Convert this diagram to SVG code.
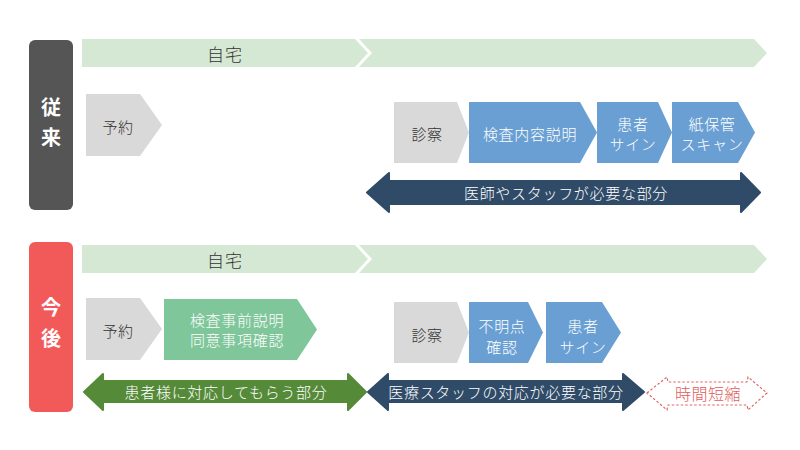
<svg xmlns="http://www.w3.org/2000/svg" width="800" height="450" viewBox="0 0 800 450">
<style>
text{font-family:"Noto Sans CJK JP","Noto Sans",sans-serif;dominant-baseline:central;text-anchor:middle;font-weight:300}
.bar{fill:#d5e8d4}
.gray{fill:#d9d9d9}
.blue{fill:#6a9fd3}
.grn{fill:#80c69b}
.dk{fill:#333333;font-size:15px;letter-spacing:0.5px}
.wt{fill:#ffffff;font-size:15px;letter-spacing:0.7px}
.home{fill:#333333;font-size:17px;letter-spacing:1px}
.side{fill:#ffffff;font-size:20px;font-weight:bold}
</style>
<rect width="800" height="450" fill="#ffffff"/>
<g id="label-before">
<rect x="29" y="40" width="44" height="170" rx="6" fill="#555555"/>
<text x="51" y="106" class="side">従</text>
<text x="51" y="136" class="side">来</text>
</g>
<g id="home-before">
<polygon class="bar" points="82,39 355,39 368,53 355,67 82,67"/>
<polygon class="bar" points="359,39 754,39 767,53 754,67 359,67 372,53"/>
<text x="225" y="53" class="home">自宅</text>
</g>
<g id="yoyaku-before">
<polygon class="gray" points="86,94 140,94 162,125 140,156 86,156"/>
<text x="118" y="126" class="dk">予約</text>
</g>
<g id="shinsatsu-before">
<polygon class="gray" points="394,102 457,102 469,132.5 457,163 394,163"/>
<text x="427" y="133" class="dk">診察</text>
</g>
<g id="kensa-before">
<polygon class="blue" points="469,102 580,102 597,132.5 580,163 469,163"/>
<text x="530" y="133" class="wt">検査内容説明</text>
</g>
<g id="sign-before">
<polygon class="blue" points="597,102 658,102 672,132.5 658,163 597,163"/>
<text x="633" y="123" class="wt">患者</text>
<text x="633" y="143" class="wt">サイン</text>
</g>
<g id="scan-before">
<polygon class="blue" points="672,102 738,102 755,132.5 738,163 672,163"/>
<text x="712" y="123" class="wt">紙保管</text>
<text x="712" y="143" class="wt">スキャン</text>
</g>
<g id="label-after">
<rect x="29" y="242" width="44" height="170" rx="6" fill="#f25a5a"/>
<text x="51" y="306" class="side">今</text>
<text x="51" y="337" class="side">後</text>
</g>
<g id="home-after">
<polygon class="bar" points="82,245 355,245 368,259 355,273 82,273"/>
<polygon class="bar" points="359,245 754,245 767,259 754,273 359,273 372,259"/>
<text x="225" y="259" class="home">自宅</text>
</g>
<g id="yoyaku-after">
<polygon class="gray" points="86,298 140,298 162,329 140,360 86,360"/>
<text x="118" y="330" class="dk">予約</text>
</g>
<g id="jizen-after">
<polygon class="grn" points="164,299 297,299 317,329.5 297,360 164,360"/>
<text x="237" y="319" class="wt">検査事前説明</text>
<text x="237" y="339" class="wt">同意事項確認</text>
</g>
<g id="shinsatsu-after">
<polygon class="gray" points="394,302 457,302 469,332.5 457,363 394,363"/>
<text x="427" y="334" class="dk">診察</text>
</g>
<g id="fumei-after">
<polygon class="blue" points="469,302 528,302 543,332.5 528,363 469,363"/>
<text x="502" y="325" class="wt">不明点</text>
<text x="502" y="346" class="wt">確認</text>
</g>
<g id="sign-after">
<polygon class="blue" points="546,302 602,302 621,332.5 602,363 546,363"/>
<text x="583" y="325" class="wt">患者</text>
<text x="583" y="346" class="wt">サイン</text>
</g>
<g id="connectors">
<polygon points="367,192.5 389,173 389,181 741,181 741,173 760,192.5 741,212 741,204 389,204 389,212" fill="#2f4b68" stroke="#2f4b68" stroke-width="2" stroke-linejoin="round"/>
<text x="566" y="192" class="wt">医師やスタッフが必要な部分</text>
<polygon points="84,392 103,374 103,381 348,381 348,374 366,392 348,410 348,402 103,402 103,410" fill="#558a39" stroke="#558a39" stroke-width="2" stroke-linejoin="round"/>
<text x="226" y="391" class="wt">患者様に対応してもらう部分</text>
<polygon points="368,392 388,374 388,381 623,381 623,374 644,392 623,410 623,402 388,402 388,410" fill="#2f4b68" stroke="#2f4b68" stroke-width="2" stroke-linejoin="round"/>
<text x="506" y="391" class="wt">医療スタッフの対応が必要な部分</text>
</g>
<g id="jikan-tanshuku">
<polygon points="647,393 667,377 668,382 747,382 748,377 767,393 748,410 747,405 668,405 667,410" fill="none" stroke="#e06666" stroke-width="1.2" stroke-dasharray="2.5,2"/>
<text x="708" y="393" fill="#e05c5c" font-size="16" letter-spacing="0.5">時間短縮</text>
</g>
</svg>
